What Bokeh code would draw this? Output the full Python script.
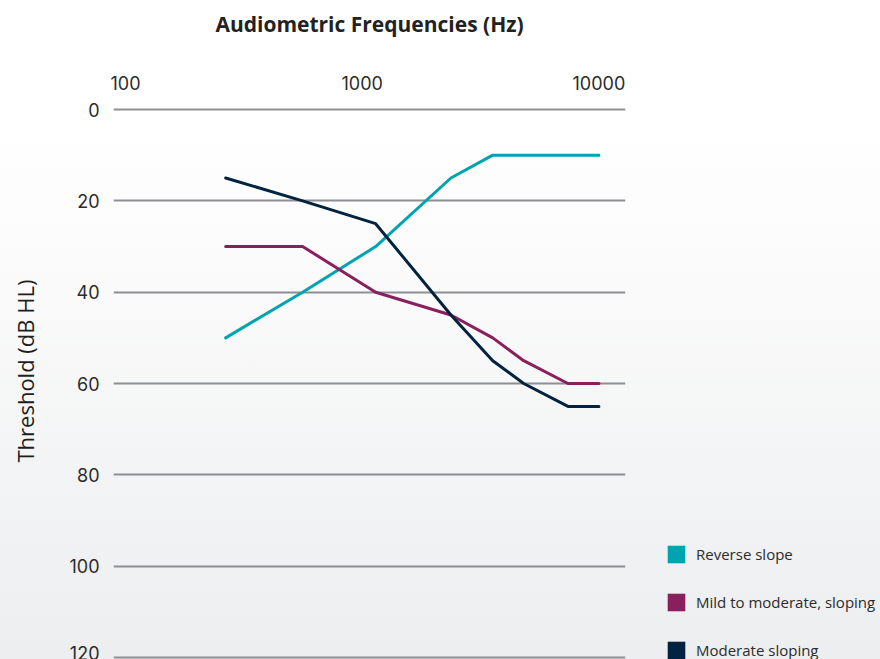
from bokeh.plotting import figure
from bokeh.models import Range1d, FixedTicker, Legend, LegendItem, InlineStyleSheet
from bokeh.embed import file_html
from bokeh.resources import INLINE

# ---- data ----
freqs = [265, 560, 1140, 2370, 3560, 4810, 7400, 10000]
reverse_slope = [50, 40, 30, 15, 10, 10, 10, 10]
mild_to_moderate = [30, 30, 40, 45, 50, 55, 60, 60]
moderate_sloping = [15, 20, 25, 45, 55, 60, 65, 65]
series_names = ["Reverse slope", "Mild to moderate, sloping", "Moderate sloping"]
series_colors = ["#00a4b0", "#8a1f5d", "#02233f"]
x_ticks = [100, 1000, 10000]
x_tick_labels = ["100", "1000", "10000"]
y_ticks = [0, 20, 40, 60, 80, 100, 120]
x_title = "Audiometric Frequencies (Hz)"
y_title = "Threshold (dB HL)"

series_values = [reverse_slope, mild_to_moderate, moderate_sloping]

FONT = "Open Sans"
TICK_FONT = "Inter"

p = figure(
    frame_width=512, frame_height=554,
    x_axis_type="log", x_axis_location="above",
    x_range=Range1d(89, 12950), y_range=Range1d(120.42, -0.876),
    min_border_left=113, min_border_right=255, min_border_top=105, min_border_bottom=0,
    output_backend="svg", toolbar_location=None,
)
p.stylesheets = [InlineStyleSheet(css=":host { background: linear-gradient(to bottom, #ffffff 0%, #ffffff 18%, #fafafa 45%, #f2f3f4 75%, #edeef0 100%); }")]
p.background_fill_alpha = 0
p.border_fill_alpha = 0
p.outline_line_color = None

# axes
xa = p.xaxis[0]
xa.ticker = FixedTicker(ticks=x_ticks)
xa.major_label_overrides = {t: l for t, l in zip(x_ticks, x_tick_labels)}
xa.axis_label = x_title
xa.axis_label_text_font = FONT
xa.axis_label_text_font_style = "bold"
xa.axis_label_text_font_size = "21px"
xa.axis_label_text_color = "#222222"
xa.axis_label_standoff = 35
xa.major_label_text_font = TICK_FONT
xa.major_label_text_font_size = "18px"
xa.major_label_text_color = "#2b2b2b"
xa.major_label_standoff = 10
xa.axis_line_color = None
xa.major_tick_line_color = None
xa.minor_tick_line_color = None

ya = p.yaxis[0]
ya.ticker = FixedTicker(ticks=y_ticks)
# leading no-break spaces nudge the centred title up, as in the reference
ya.axis_label = "\u00a0" * 4 + y_title
ya.axis_label_text_font = FONT
ya.axis_label_text_font_style = "normal"
ya.axis_label_text_font_size = "22px"
ya.axis_label_text_color = "#1e1e1e"
ya.axis_label_standoff = 26
ya.major_label_text_font = TICK_FONT
ya.major_label_text_font_size = "18px"
ya.major_label_text_color = "#2b2b2b"
ya.major_label_standoff = 8
ya.axis_line_color = None
ya.major_tick_line_color = None
ya.minor_tick_line_color = None

p.xgrid.grid_line_color = None
p.ygrid.ticker = FixedTicker(ticks=y_ticks)
p.ygrid.grid_line_color = "#8e8e93"
p.ygrid.grid_line_width = 2

items = []
for name, vals, col in zip(series_names, series_values, series_colors):
    p.line(freqs, vals, line_width=3, line_color=col, line_cap="round", line_join="round")
    sw = p.varea(x=freqs, y1=vals, y2=vals, fill_color=col, fill_alpha=1)
    items.append(LegendItem(label=name, renderers=[sw]))

legend = Legend(
    items=items, location=(40, -2),
    glyph_width=22, glyph_height=22, spacing=26, label_standoff=9,
    padding=0, margin=0,
    border_line_color=None, background_fill_alpha=0,
    label_text_font=FONT, label_text_font_size="15px", label_text_color="#2b2b2b",
)
p.add_layout(legend, "right")

open("out.html", "w").write(file_html(p, INLINE))
